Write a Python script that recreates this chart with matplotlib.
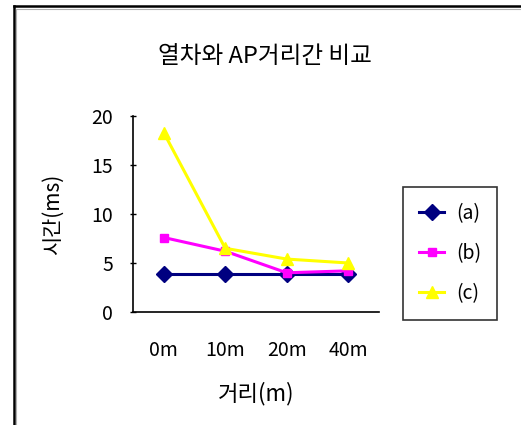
import matplotlib.pyplot as plt
from matplotlib.lines import Line2D

plt.rcParams['font.family'] = ['Noto Sans CJK KR', 'DejaVu Sans']

# data
distances = ['0m', '10m', '20m', '40m']
series_a = [3.9, 3.9, 3.9, 3.9]
series_b = [7.6, 6.2, 4.0, 4.2]
series_c = [18.3, 6.5, 5.4, 5.0]
labels = ['(a)', '(b)', '(c)']

fig = plt.figure(figsize=(5.21, 4.25), dpi=100)
ax = fig.add_axes([0.2553, 0.2659, 0.4721, 0.4612])

x = range(len(distances))
ax.plot(x, series_a, color='#000080', lw=2.2, marker='D', ms=8, label=labels[0])
ax.plot(x, series_b, color='#FF00FF', lw=2.2, marker='s', ms=6, label=labels[1])
ax.plot(x, series_c, color='#FFFF00', lw=2.2, marker='^', ms=8, label=labels[2])

ax.set_xlim(-0.5, len(distances) - 0.5)
ax.set_ylim(0, 20)
ax.set_yticks([0, 5, 10, 15, 20])
ax.set_xticks(list(x))
ax.set_xticklabels(distances)
ax.tick_params(axis='y', direction='inout', length=5, width=1, labelsize=14, pad=12)
ax.tick_params(axis='x', length=0, labelsize=14, pad=20)
for s in ['top', 'right']:
    ax.spines[s].set_visible(False)
for s in ['left', 'bottom']:
    ax.spines[s].set_linewidth(1.2)

ax.set_xlabel('거리(m)', fontsize=16, labelpad=15)
ax.set_ylabel('시간(ms)', fontsize=15, labelpad=20)
fig.text(0.509, 0.868, '열차와 AP거리간 비교', ha='center', va='center', fontsize=17)

leg = fig.legend(loc='upper left', bbox_to_anchor=(0.7735, 0.56), borderaxespad=0,
                 fontsize=14, frameon=True, fancybox=False, edgecolor='black',
                 handlelength=1.3, labelspacing=0.98, borderpad=0.82, handletextpad=0.6)
leg.get_frame().set_linewidth(1.2)

# outer chart border (left and top only are visible)
fig.add_artist(Line2D([0.026, 0.026], [0.0, 0.985], color='black', lw=1.8))
fig.add_artist(Line2D([0.026, 1.0], [0.985, 0.985], color='black', lw=1.8))
fig.add_artist(Line2D([0.031, 0.031], [0.0, 0.979], color='#b0b0b0', lw=0.8))
fig.add_artist(Line2D([0.031, 1.0], [0.979, 0.979], color='#b0b0b0', lw=0.8))

fig.savefig('out.png', dpi=100)
